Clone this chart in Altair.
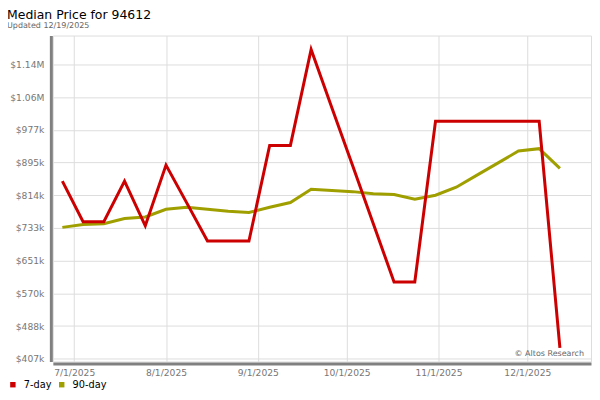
import altair as alt
import pandas as pd

dates = ["2025-06-27", "2025-07-04", "2025-07-11", "2025-07-18", "2025-07-25",
         "2025-08-01", "2025-08-08", "2025-08-15", "2025-08-22", "2025-08-29",
         "2025-09-05", "2025-09-12", "2025-09-19", "2025-09-26", "2025-10-03",
         "2025-10-10", "2025-10-17", "2025-10-24", "2025-10-31", "2025-11-07",
         "2025-11-14", "2025-11-21", "2025-11-28", "2025-12-05", "2025-12-12"]
seven_day = [849000, 748000, 748000, 849000, 738000,
             889000, 795000, 700000, 700000, 700000,
             938000, 938000, 1177000, 1032000, 888000,
             743000, 598000, 598000, 998000, 998000,
             998000, 998000, 998000, 998000, 434000]
ninety_day = [734000, 741000, 743000, 756000, 760000,
              779000, 784000, 779000, 774000, 771000,
              784000, 796000, 829000, 826000, 823000,
              818000, 816000, 804000, 814000, 834000,
              864000, 894000, 924000, 930000, 881000]
series_names = ["7-day", "90-day"]
series_colors = ["#cc0000", "#a09f00"]
y_ticks = [407000, 488400, 569800, 651200, 732600, 814000, 895400, 976800, 1058200, 1139600]
x_ticks = [(2025, 7, 1), (2025, 8, 1), (2025, 9, 1), (2025, 10, 1), (2025, 11, 1), (2025, 12, 1)]

title_text = "Median Price for 94612"
subtitle_text = "Updated 12/19/2025"
credit_text = "© Altos Research"

FONT = "DejaVu Sans"

rows = []
for d, v in zip(dates, seven_day):
    rows.append({"date": d + "T00:00:00", "series": series_names[0], "value": v})
for d, v in zip(dates, ninety_day):
    rows.append({"date": d + "T00:00:00", "series": series_names[1], "value": v})
df = pd.DataFrame(rows)

x_enc = alt.X(
    "date:T",
    scale=alt.Scale(domain=[alt.DateTime(year=2025, month=6, date=23, hours=19),
                            alt.DateTime(year=2025, month=12, date=22, hours=12)]),
    axis=alt.Axis(
        title=None,
        values=[alt.DateTime(year=y, month=m, date=d) for (y, m, d) in x_ticks],
        format="%-m/%-d/%Y",
        grid=True, gridColor="#dddddd", gridWidth=1,
        ticks=False, tickSize=0,
        domain=True, domainColor="#808080", domainWidth=3,
        offset=2, labelPadding=5,
        labelColor="#777777", labelFont=FONT, labelFontSize=9.2,
        labelFlush=False, labelOverlap=False,
    ),
)
y_enc = alt.Y(
    "value:Q",
    scale=alt.Scale(domain=[400300, 1211500], nice=False, zero=False),
    axis=alt.Axis(
        title=None,
        values=y_ticks,
        format="$.3s",
        grid=True, gridColor="#dddddd", gridWidth=1,
        ticks=False, tickSize=0,
        domain=True, domainColor="#808080", domainWidth=3,
        offset=2, labelPadding=7,
        labelColor="#777777", labelFont=FONT, labelFontSize=9.2,
        labelFlush=False, labelOverlap=False,
    ),
)
color_enc = alt.Color(
    "series:N",
    scale=alt.Scale(domain=series_names, range=series_colors),
    legend=alt.Legend(
        title=None, orient="none", legendX=-45, legendY=345, padding=0,
        direction="horizontal", symbolType="square", symbolSize=6,
        symbolStrokeWidth=3,
        labelFont=FONT, labelFontSize=9.8, labelColor="#000000",
        labelOffset=6, columnPadding=2,
    ),
)

base = alt.Chart(df)
olive = base.transform_filter(alt.datum.series == series_names[1]).mark_line(
    strokeWidth=3, strokeJoin="miter").encode(x=x_enc, y=y_enc, color=color_enc)
red = base.transform_filter(alt.datum.series == series_names[0]).mark_line(
    strokeWidth=3, strokeJoin="miter").encode(x=x_enc, y=y_enc, color=color_enc)

title_mark = alt.Chart(pd.DataFrame({"t": [title_text]})).mark_text(
    align="left", baseline="alphabetic", font=FONT, fontSize=12.5, color="#000000"
).encode(text="t:N", x=alt.value(-46), y=alt.value(-17))
subtitle_mark = alt.Chart(pd.DataFrame({"t": [subtitle_text]})).mark_text(
    align="left", baseline="alphabetic", font=FONT, fontSize=8, color="#666666"
).encode(text="t:N", x=alt.value(-46), y=alt.value(-8))
credit_mark = alt.Chart(pd.DataFrame({"t": [credit_text]})).mark_text(
    align="right", baseline="alphabetic", font=FONT, fontSize=8, color="#666666"
).encode(text="t:N", x=alt.value(533), y=alt.value(321.7))

chart = alt.layer(olive, red, title_mark, subtitle_mark, credit_mark).properties(
    width=540, height=327,
    autosize=alt.AutoSizeParams(type="none"),
    padding={"left": 45, "top": 27, "right": 1, "bottom": 29},
).configure_view(stroke="#dddddd", strokeWidth=1).configure(background="white")

chart.save("out.html", embed_options={"renderer": "svg", "actions": False})
